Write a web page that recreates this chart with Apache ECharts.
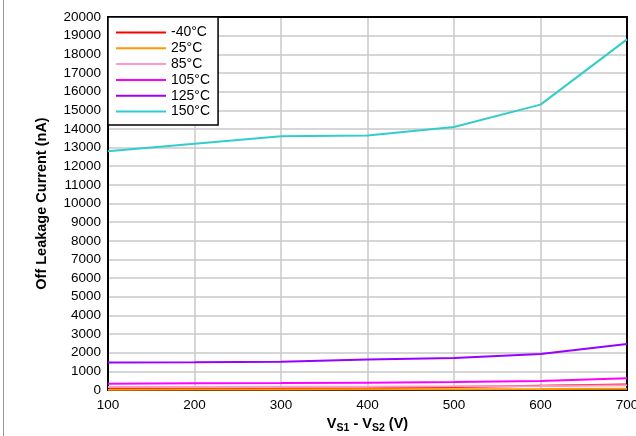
<!DOCTYPE html>
<html>
<head>
<meta charset="utf-8">
<script src="https://cdn.jsdelivr.net/npm/echarts@6/dist/echarts.min.js"></script>
<style>html,body{margin:0;padding:0;background:#fff}#c{width:636px;height:436px}</style>
</head>
<body>
<div id="c"></div>
<script>
var voltages = [100, 200, 300, 400, 500, 600, 700];
var seriesNames = ['-40°C', '25°C', '85°C', '105°C', '125°C', '150°C'];
var tM40 = [60, 70, 80, 100, 160, 230, 300];
var t25 = [20, 25, 30, 35, 40, 50, 70];
var t85 = [160, 165, 170, 180, 195, 220, 260];
var t105 = [340, 360, 375, 395, 430, 480, 625];
var t125 = [1470, 1485, 1520, 1630, 1720, 1930, 2470];
var t150 = [12800, 13200, 13600, 13650, 14100, 15300, 18800];
var colors = ['#ff0000', '#ff9900', '#ff99cc', '#ff00ff', '#9900ff', '#33cccc'];
var allData = [tM40, t25, t85, t105, t125, t150];

function pairs(arr) { return voltages.map(function (v, i) { return [v, arr[i]]; }); }

var chart = echarts.init(document.getElementById('c'));
var font = 'Liberation Sans, Arial, sans-serif';
chart.setOption({
  animation: false,
  backgroundColor: '#fff',
  textStyle: { fontFamily: font },
  graphic: [{ type: 'line', shape: { x1: 3.5, y1: 0, x2: 3.5, y2: 436 }, style: { stroke: '#999', lineWidth: 1 } }],
  grid: { left: 108, right: 9, top: 17, bottom: 46, containLabel: false, outerBoundsMode: 'none', show: true, borderColor: '#000', borderWidth: 2, z: 3 },
  legend: {
    orient: 'vertical', left: 108, top: 17, z: 10,
    backgroundColor: '#fff', borderColor: '#000', borderWidth: 1.5,
    padding: [8, 8, 6, 8], icon: 'rect', itemWidth: 50, itemHeight: 2, itemGap: 0.8, itemTextGap: 7,
    textStyle: { fontSize: 14, color: '#000', fontFamily: font, lineHeight: 15 },
    data: seriesNames
  },
  xAxis: {
    type: 'value', min: 100, max: 700, interval: 100,
    axisLine: { show: false }, axisTick: { show: false },
    axisLabel: { fontSize: 13.5, color: '#000', margin: 8, fontFamily: font },
    splitLine: { lineStyle: { color: '#c8c8c8', width: 1.5 } },
    name: '{b|V}{s|S1}{b| - V}{s|S2}{b| (V)}', nameLocation: 'middle', nameGap: 24,
    nameTextStyle: {
      rich: {
        b: { fontSize: 14.5, fontWeight: 'bold', color: '#000', fontFamily: font },
        s: { fontSize: 10.5, fontWeight: 'bold', color: '#000', fontFamily: font, padding: [8, 0, 0, 0] }
      }
    }
  },
  yAxis: {
    type: 'value', min: 0, max: 20000, interval: 1000,
    axisLine: { show: false }, axisTick: { show: false },
    axisLabel: { fontSize: 13.5, color: '#000', margin: 7, fontFamily: font, formatter: function (v) { return String(v); } },
    splitLine: { lineStyle: { color: '#c8c8c8', width: 1.5 } },
    name: 'Off Leakage Current (nA)', nameLocation: 'middle', nameGap: 59,
    nameTextStyle: { fontSize: 14.5, fontWeight: 'bold', color: '#000', fontFamily: font }
  },
  series: seriesNames.map(function (n, i) {
    return {
      name: n, type: 'line', data: pairs(allData[i]), symbol: 'none',
      lineStyle: { color: colors[i], width: 2 }, itemStyle: { color: colors[i] }, z: 2 + i
    };
  })
});
</script>
</body>
</html>
